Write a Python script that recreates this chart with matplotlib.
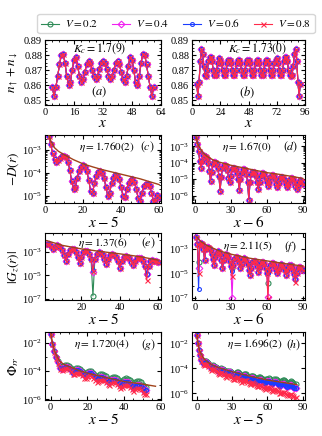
import numpy as np
import matplotlib
matplotlib.use("Agg")
import matplotlib.pyplot as plt
from matplotlib.ticker import MultipleLocator, FixedLocator, NullFormatter

plt.rcParams['font.family'] = ['Liberation Serif', 'DejaVu Serif']
plt.rcParams['mathtext.fontset'] = 'stix'
plt.rcParams['xtick.direction'] = 'in'
plt.rcParams['ytick.direction'] = 'in'
plt.rcParams['xtick.top'] = True
plt.rcParams['ytick.right'] = True
plt.rcParams['xtick.labelsize'] = 7.5
plt.rcParams['ytick.labelsize'] = 7.5
plt.rcParams['xtick.major.size'] = 3
plt.rcParams['ytick.major.size'] = 3
plt.rcParams['xtick.minor.size'] = 1.6
plt.rcParams['ytick.minor.size'] = 1.6
plt.rcParams['xtick.major.pad'] = 2
plt.rcParams['ytick.major.pad'] = 2
plt.rcParams['axes.linewidth'] = 0.8

# ---------------- data ----------------
V_labels = ['$V=0.2$', '$V=0.4$', '$V=0.6$', '$V=0.8$']

# (a) density, L=64
x_a = np.arange(4, 61)
dens_a = [0.859, 0.853, 0.859, 0.866, 0.874, 0.880, 0.881, 0.875, 0.866, 0.860,
          0.862, 0.870, 0.877, 0.879, 0.873, 0.866, 0.862, 0.864, 0.869, 0.874,
          0.876, 0.875, 0.870, 0.866, 0.864, 0.866, 0.871, 0.875, 0.876, 0.875,
          0.871, 0.866, 0.864, 0.866, 0.870, 0.875, 0.876, 0.874, 0.869, 0.864,
          0.862, 0.866, 0.873, 0.879, 0.877, 0.870, 0.862, 0.860, 0.866, 0.875,
          0.881, 0.880, 0.874, 0.866, 0.859, 0.853, 0.859]

# (b) density, L=96
x_b = np.arange(4, 93)
dens_b = [0.861, 0.853, 0.862, 0.876, 0.884, 0.881, 0.873, 0.867, 0.866, 0.870,
          0.876, 0.879, 0.879, 0.876, 0.870, 0.867, 0.867, 0.870, 0.875, 0.878,
          0.877, 0.875, 0.870, 0.867, 0.867, 0.870, 0.875, 0.877, 0.877, 0.875,
          0.870, 0.867, 0.867, 0.870, 0.875, 0.877, 0.877, 0.875, 0.870, 0.867,
          0.867, 0.870, 0.875, 0.877, 0.877, 0.875, 0.870, 0.867, 0.867, 0.870,
          0.875, 0.877, 0.877, 0.875, 0.870, 0.867, 0.867, 0.870, 0.875, 0.877,
          0.877, 0.875, 0.870, 0.867, 0.867, 0.870, 0.875, 0.877, 0.878, 0.875,
          0.870, 0.867, 0.867, 0.870, 0.876, 0.879, 0.879, 0.876, 0.870, 0.867,
          0.866, 0.867, 0.873, 0.881, 0.884, 0.876, 0.862, 0.853, 0.861]

# (c) -D(r), log10 values
x_c = np.arange(2, 61)
logD_c = [-2.40, -2.75, -3.15, -3.40, -3.50, -3.45, -3.35, -3.28, -3.25, -3.32,
          -3.50, -3.85, -4.35, -4.70, -4.60, -4.20, -3.90, -3.72, -3.66, -3.72,
          -3.92, -4.30, -4.80, -4.85, -4.45, -4.12, -3.96, -3.92, -4.00, -4.20,
          -4.60, -5.00, -4.85, -4.45, -4.20, -4.10, -4.12, -4.28, -4.60, -5.00,
          -5.05, -4.70, -4.42, -4.30, -4.28, -4.40, -4.70, -5.10, -5.20, -4.85,
          -4.58, -4.48, -4.47, -4.58, -4.85, -5.20, -5.15, -4.95, -5.05]
fitx_c = [2, 3, 5, 7, 10, 15, 20, 25, 30, 40, 50, 60]
fity_c = [-2.35, -2.6, -2.9, -3.05, -3.2, -3.42, -3.6, -3.73, -3.85, -4.05, -4.25, -4.5]

# (d) -D(r), log10 values
x_d = np.arange(1, 91)
logD_d = [-2.45, -2.85, -3.3, -3.9, -4.3, -3.9, -3.55, -3.6, -3.65, -3.75,
          -4.0, -4.5, -5.1, -4.55, -4.05, -3.95, -3.98, -4.05, -4.3, -4.8,
          -5.7, -4.85, -4.3, -4.15, -4.15, -4.2, -4.45, -4.9, -5.2, -4.8,
          -4.4, -4.3, -4.3, -4.35, -4.6, -5.0, -5.65, -5.0, -4.6, -4.4,
          -4.4, -4.45, -4.7, -5.2, -6.25, -5.2, -4.7, -4.55, -4.55, -4.6,
          -4.8, -5.2, -5.6, -5.2, -4.8, -4.65, -4.65, -4.7, -4.9, -5.2,
          -5.4, -5.15, -4.85, -4.75, -4.75, -4.8, -5.0, -5.3, -5.5, -5.25,
          -4.95, -4.85, -4.85, -4.9, -5.05, -5.3, -5.5, -5.3, -5.05, -4.95,
          -4.95, -5.0, -5.15, -5.4, -5.6, -5.35, -5.15, -5.05, -5.1, -5.3]
fitx_d = [1, 2, 3, 5, 7, 10, 15, 20, 30, 40, 50, 60, 70, 80, 90]
fity_d = [-2.4, -2.75, -2.95, -3.2, -3.4, -3.6, -3.82, -3.95, -4.15, -4.3, -4.45,
          -4.6, -4.7, -4.82, -4.95]

# (e) |G_z(r)|, log10 values
x_e = np.arange(2, 61)
logG_e = [-2.3, -2.35, -2.5, -2.8, -2.55, -2.45, -2.5, -2.6, -2.85, -3.25,
          -3.75, -3.2, -2.85, -2.75, -2.8, -3.0, -3.4, -3.95, -3.4, -3.0,
          -2.9, -2.95, -3.15, -3.6, -4.6, -3.6, -3.15, -3.05, -3.1, -3.3,
          -3.65, -4.0, -3.6, -3.25, -3.2, -3.25, -3.45, -3.8, -4.35, -3.8,
          -3.4, -3.35, -3.4, -3.55, -3.85, -4.1, -3.8, -3.55, -3.5, -3.55,
          -3.75, -4.2, -4.9, -4.2, -3.8, -3.7, -3.75, -3.8, -3.9]
dips_e = [{26: -6.75}, {26: -4.7}, {26: -4.55}, {54: -5.4}]
fitx_e = [2, 5, 10, 20, 30, 40, 50, 60]
fity_e = [-2.05, -2.2, -2.45, -2.75, -2.97, -3.17, -3.4, -3.7]

# (f) |G_z(r)|, log10 values
x_f = np.arange(1, 91)
logG_f = [-2.05, -2.6, -4.6, -2.7, -2.5, -2.6, -3.0, -3.9, -3.0, -2.85,
          -2.85, -2.95, -3.1, -3.4, -3.8, -4.3, -3.7, -3.3, -3.2, -3.25,
          -3.45, -3.9, -4.6, -3.9, -3.5, -3.45, -3.5, -3.7, -4.0, -4.4,
          -4.8, -4.3, -3.8, -3.65, -3.65, -3.8, -4.1, -4.6, -4.2, -3.85,
          -3.75, -3.8, -3.95, -4.25, -4.7, -5.1, -4.6, -4.1, -3.95, -3.95,
          -4.1, -4.4, -4.9, -4.5, -4.15, -4.05, -4.1, -4.25, -4.55, -4.95,
          -5.2, -4.7, -4.3, -4.15, -4.15, -4.25, -4.45, -4.75, -5.0, -4.65,
          -4.35, -4.25, -4.3, -4.45, -4.7, -5.1, -4.75, -4.45, -4.35, -4.35,
          -4.45, -4.7, -5.05, -5.5, -5.0, -4.6, -4.5, -4.5, -4.6, -4.7]
dips_f = [{3: -4.1, 31: -4.6, 61: -5.8},
          {31: -7.05, 61: -6.9},
          {3: -6.3, 61: -5.0},
          {3: -5.0, 31: -5.2, 61: -7.0, 84: -5.7}]
fitx_f = [1.5, 3, 5, 10, 20, 30, 45, 60, 75, 90]
fity_f = [-2.0, -2.2, -2.4, -2.72, -3.15, -3.43, -3.75, -3.98, -4.2, -4.4]

# (g) Phi_rr, log10 values
x_g = np.arange(0, 53)
logP_g_02 = [-1.35, -2.1, -2.6, -3.0, -3.3, -3.6, -3.7, -3.6, -3.55, -3.55,
             -3.65, -3.8, -3.95, -3.9, -3.8, -3.8, -3.85, -4.0, -4.15, -4.2,
             -4.05, -4.0, -4.0, -4.1, -4.25, -4.4, -4.35, -4.2, -4.2, -4.25,
             -4.35, -4.55, -4.6, -4.45, -4.4, -4.4, -4.5, -4.65, -4.8, -4.7,
             -4.55, -4.5, -4.55, -4.65, -4.8, -4.95, -4.8, -4.7, -4.7, -4.8,
             -4.95, -5.15, -5.1]
logP_g_06 = [-1.35, -2.1, -2.6, -3.0, -3.35, -3.75, -3.85, -3.75, -3.7, -3.7,
             -3.75, -3.9, -4.1, -4.05, -3.95, -3.95, -4.0, -4.1, -4.3, -4.35,
             -4.2, -4.15, -4.15, -4.25, -4.4, -4.55, -4.5, -4.4, -4.4, -4.45,
             -4.55, -4.75, -4.8, -4.65, -4.6, -4.6, -4.7, -4.85, -5.0, -4.95,
             -4.8, -4.75, -4.8, -4.9, -5.05, -5.2, -5.05, -4.95, -4.95, -5.05,
             -5.2, -5.4, -5.35]
logP_g_08 = [-1.35, -2.1, -2.65, -3.05, -3.45, -3.85, -3.95, -3.85, -3.8, -3.8,
             -3.85, -4.0, -4.2, -4.2, -4.1, -4.1, -4.15, -4.25, -4.45, -4.5,
             -4.35, -4.3, -4.35, -4.45, -4.6, -4.75, -4.7, -4.6, -4.6, -4.65,
             -4.75, -4.9, -4.95, -4.85, -4.8, -4.8, -4.9, -5.05, -5.2, -5.15,
             -5.0, -4.95, -5.0, -5.1, -5.25, -5.4, -5.3, -5.2, -5.2, -5.3,
             -5.45, -5.65, -5.6]
fitx_g = [0.2, 1, 2, 3, 5, 7, 10, 15, 20, 30, 40, 50, 57]
fity_g = [-1.35, -1.95, -2.45, -2.8, -3.3, -3.5, -3.67, -3.93, -4.14, -4.45,
          -4.74, -4.92, -5.07]

# (h) Phi_rr, log10 values
x_h = np.arange(0, 85)
logP_h_02 = [-1.35, -2.0, -2.55, -2.95, -3.28, -3.5, -3.52, -3.42, -3.42, -3.46,
             -3.56, -3.7, -3.85, -3.8, -3.75, -3.8, -3.85, -3.95, -4.1, -4.15,
             -4.05, -4.0, -4.04, -4.14, -4.28, -4.33, -4.23, -4.18, -4.18, -4.26,
             -4.38, -4.45, -4.47, -4.35, -4.3, -4.3, -4.4, -4.52, -4.62, -4.56,
             -4.44, -4.43, -4.48, -4.58, -4.7, -4.74, -4.62, -4.57, -4.6, -4.66,
             -4.78, -4.86, -4.79, -4.7, -4.7, -4.75, -4.85, -4.95, -4.98, -4.88,
             -4.82, -4.8, -4.88, -4.98, -5.05, -4.97, -4.88, -4.86, -4.9, -5.0,
             -5.1, -5.12, -5.02, -4.95, -4.95, -5.02, -5.12, -5.2, -5.14, -5.05,
             -5.03, -5.08, -5.2, -5.3, -5.25]
logP_h_06 = [-1.35, -2.0, -2.55, -2.95, -3.3, -3.55, -3.6, -3.5, -3.5, -3.55,
             -3.65, -3.8, -3.95, -3.9, -3.85, -3.9, -3.95, -4.05, -4.2, -4.25,
             -4.15, -4.1, -4.15, -4.25, -4.4, -4.45, -4.35, -4.3, -4.3, -4.38,
             -4.5, -4.6, -4.62, -4.5, -4.45, -4.45, -4.55, -4.68, -4.78, -4.72,
             -4.6, -4.6, -4.65, -4.75, -4.88, -4.92, -4.8, -4.75, -4.78, -4.85,
             -4.97, -5.05, -4.98, -4.9, -4.9, -4.95, -5.05, -5.15, -5.18, -5.08,
             -5.02, -5.02, -5.1, -5.2, -5.28, -5.2, -5.12, -5.1, -5.15, -5.25,
             -5.35, -5.38, -5.28, -5.22, -5.22, -5.3, -5.4, -5.48, -5.42, -5.33,
             -5.32, -5.38, -5.5, -5.6, -5.55]
logP_h_08 = [-1.35, -2.0, -2.6, -3.05, -3.4, -3.68, -3.72, -3.63, -3.63, -3.68,
             -3.78, -3.93, -4.1, -4.05, -4.0, -4.05, -4.1, -4.22, -4.37, -4.43,
             -4.33, -4.28, -4.33, -4.45, -4.6, -4.66, -4.56, -4.5, -4.52, -4.6,
             -4.73, -4.85, -4.87, -4.75, -4.7, -4.72, -4.82, -4.95, -5.06, -5.0,
             -4.9, -4.9, -4.96, -5.07, -5.2, -5.26, -5.15, -5.1, -5.14, -5.22,
             -5.35, -5.44, -5.38, -5.3, -5.32, -5.38, -5.5, -5.6, -5.64, -5.55,
             -5.5, -5.52, -5.6, -5.72, -5.8, -5.73, -5.66, -5.65, -5.72, -5.83,
             -5.94, -5.98, -5.9, -5.85, -5.86, -5.95, -6.06, -6.15, -6.1, -6.02,
             -6.02, -6.1, -6.23, -6.35, -6.3]
fitx_h = [0.2, 1, 2, 3, 5, 7, 10, 15, 20, 30, 45, 60, 75, 85]
fity_h = [-1.35, -1.9, -2.4, -2.7, -3.07, -3.3, -3.55, -3.8, -3.98, -4.27, -4.62,
          -4.93, -5.15, -5.3]

# ---------------- style ----------------
colors = ['#2e8b57', '#f020f0', '#1a3cff', '#ff2a4a']
markers = ['o', 'D', 'o', 'x']
msizes = [3.6, 3.4, 2.8, 3.6]
fit_color = '#a0421a'

W, H = 322, 436
fig = plt.figure(figsize=(W / 100, H / 100), dpi=100)


def add_ax(l, t, r, b):
    return fig.add_axes([l / W, 1 - b / H, (r - l) / W, (b - t) / H])


def draw(ax, x, ys, fx=None, fy=None, log=False):
    for i, y in enumerate(ys):
        yy = 10.0 ** np.array(y) if log else np.array(y)
        ax.plot(x, yy, color=colors[i], marker=markers[i], ms=msizes[i],
                mfc='none', mew=0.8, lw=0.8, label=V_labels[i])
    if fx is not None:
        fyy = 10.0 ** np.array(fy) if log else np.array(fy)
        ax.plot(fx, fyy, color=fit_color, lw=1.0, zorder=5)
    if log:
        ax.set_yscale('log')


def with_dips(base, x0, dips):
    out = []
    for d in dips:
        y = list(base)
        for k, v in d.items():
            y[k - x0] = v
        out.append(y)
    return out


def annotate(ax, eta, xe, tag, xt, y):
    ax.text(xe, y, eta, transform=ax.transAxes, ha='center', va='center', fontsize=8)
    ax.text(xt, y, tag, transform=ax.transAxes, ha='center', va='center', fontsize=8.5)


def log_yticks(ax, major, minor):
    ax.yaxis.set_major_locator(FixedLocator(major))
    ax.yaxis.set_minor_locator(FixedLocator(minor))
    ax.yaxis.set_minor_formatter(NullFormatter())


colL = (45, 161)
colR = (192, 305)
rows = [(40, 105), (135, 203), (233, 300), (332, 400)]
sub_c = [k * 10.0 ** e for e in range(-8, -1) for k in range(2, 10)]

# (a)
ax = add_ax(colL[0], rows[0][0], colL[1], rows[0][1])
draw(ax, x_a, [dens_a] * 4)
ax.plot(x_a, dens_a, color=fit_color, lw=0.8, zorder=1)
ax.set_xlim(0, 64)
ax.set_ylim(0.847, 0.89)
ax.xaxis.set_major_locator(FixedLocator([0, 16, 32, 48, 64]))
ax.xaxis.set_minor_locator(MultipleLocator(4))
ax.yaxis.set_major_locator(MultipleLocator(0.01))
ax.yaxis.set_minor_locator(MultipleLocator(0.0025))
ax.yaxis.set_major_formatter(matplotlib.ticker.FormatStrFormatter('%.2f'))
ax.set_xlabel('$x$', fontsize=11, labelpad=0)
ax.set_ylabel(r'$n_{\uparrow}+n_{\downarrow}$', fontsize=9.5)
ax.text(0.47, 0.86, '$K_c=1.7(9)$', transform=ax.transAxes, ha='center', va='center', fontsize=8.5)
ax.text(0.47, 0.2, '$(a)$', transform=ax.transAxes, ha='center', va='center', fontsize=9)
handles, labels = ax.get_legend_handles_labels()
axes_left = [ax]

# (b)
ax = add_ax(colR[0], rows[0][0], colR[1], rows[0][1])
draw(ax, x_b, [dens_b] * 4)
ax.plot(x_b, dens_b, color=fit_color, lw=0.8, zorder=1)
ax.set_xlim(0, 96)
ax.set_ylim(0.847, 0.89)
ax.xaxis.set_major_locator(FixedLocator([0, 24, 48, 72, 96]))
ax.xaxis.set_minor_locator(MultipleLocator(6))
ax.yaxis.set_major_locator(MultipleLocator(0.01))
ax.yaxis.set_minor_locator(MultipleLocator(0.0025))
ax.yaxis.set_major_formatter(matplotlib.ticker.FormatStrFormatter('%.2f'))
ax.set_xlabel('$x$', fontsize=11, labelpad=0)
ax.text(0.58, 0.86, '$K_c=1.73(0)$', transform=ax.transAxes, ha='center', va='center', fontsize=8.5)
ax.text(0.49, 0.2, '$(b)$', transform=ax.transAxes, ha='center', va='center', fontsize=9)

# (c)
ax = add_ax(colL[0], rows[1][0], colL[1], rows[1][1])
draw(ax, x_c, [logD_c] * 4, fitx_c, fity_c, log=True)
ax.set_xlim(0, 61)
ax.set_ylim(5e-6, 4.5e-3)
ax.xaxis.set_major_locator(MultipleLocator(20))
ax.xaxis.set_minor_locator(MultipleLocator(5))
log_yticks(ax, [1e-5, 1e-4, 1e-3], sub_c)
ax.set_xlabel('$x-5$', fontsize=11, labelpad=0)
ax.set_ylabel('$-D(r)$', fontsize=9.5)
annotate(ax, r'$\eta=1.760(2)$', 0.53, '$(c)$', 0.88, 0.83)
axes_left.append(ax)

# (d)
ax = add_ax(colR[0], rows[1][0], colR[1], rows[1][1])
draw(ax, x_d, [logD_d] * 4, fitx_d, fity_d, log=True)
ax.set_xlim(-2.5, 92)
ax.set_ylim(3.5e-7, 5e-3)
ax.xaxis.set_major_locator(MultipleLocator(30))
ax.xaxis.set_minor_locator(MultipleLocator(10))
log_yticks(ax, [1e-6, 1e-5, 1e-4, 1e-3], sub_c)
ax.set_xlabel('$x-6$', fontsize=11, labelpad=0)
annotate(ax, r'$\eta=1.67(0)$', 0.49, '$(d)$', 0.87, 0.83)

# (e)
ax = add_ax(colL[0], rows[2][0], colL[1], rows[2][1])
draw(ax, x_e, with_dips(logG_e, 2, dips_e), fitx_e, fity_e, log=True)
ax.set_xlim(1, 61.5)
ax.set_ylim(8e-8, 4e-2)
ax.xaxis.set_major_locator(MultipleLocator(20))
ax.xaxis.set_minor_locator(MultipleLocator(5))
log_yticks(ax, [1e-7, 1e-5, 1e-3], [1e-6, 1e-4, 1e-2])
ax.set_xlabel('$x-5$', fontsize=11, labelpad=0)
ax.set_ylabel('$|G_z(r)|$', fontsize=9.5)
annotate(ax, r'$\eta=1.37(6)$', 0.5, '$(e)$', 0.89, 0.85)
axes_left.append(ax)

# (f)
ax = add_ax(colR[0], rows[2][0], colR[1], rows[2][1])
draw(ax, x_f, with_dips(logG_f, 1, dips_f), fitx_f, fity_f, log=True)
ax.set_xlim(-2.5, 92)
ax.set_ylim(6.6e-8, 2e-2)
ax.xaxis.set_major_locator(MultipleLocator(30))
ax.xaxis.set_minor_locator(MultipleLocator(10))
log_yticks(ax, [1e-7, 1e-5, 1e-3], [1e-6, 1e-4, 1e-2])
ax.set_xlabel('$x-6$', fontsize=11, labelpad=0)
annotate(ax, r'$\eta=2.11(5)$', 0.5, '$(f)$', 0.87, 0.8)

# (g)
ax = add_ax(colL[0], rows[3][0], colL[1], rows[3][1])
draw(ax, x_g, [logP_g_02, logP_g_06, logP_g_06, logP_g_08], fitx_g, fity_g, log=True)
ax.set_xlim(-3, 60)
ax.set_ylim(9e-7, 6e-2)
ax.xaxis.set_major_locator(MultipleLocator(20))
ax.xaxis.set_minor_locator(MultipleLocator(5))
log_yticks(ax, [1e-6, 1e-4, 1e-2], [1e-5, 1e-3])
ax.set_xlabel('$x-5$', fontsize=11, labelpad=0)
ax.set_ylabel(r'$\Phi_{rr}$', fontsize=9.5)
annotate(ax, r'$\eta=1.720(4)$', 0.49, '$(g)$', 0.89, 0.82)
axes_left.append(ax)

# (h)
ax = add_ax(colR[0], rows[3][0], colR[1], rows[3][1])
draw(ax, x_h, [logP_h_02, logP_h_06, logP_h_06, logP_h_08], fitx_h, fity_h, log=True)
ax.set_xlim(-4, 92)
ax.set_ylim(3e-7, 8e-2)
ax.xaxis.set_major_locator(MultipleLocator(30))
ax.xaxis.set_minor_locator(MultipleLocator(10))
log_yticks(ax, [1e-6, 1e-4, 1e-2], [1e-5, 1e-3])
ax.set_xlabel('$x-5$', fontsize=11, labelpad=0)
annotate(ax, r'$\eta=1.696(2)$', 0.56, '$(h)$', 0.9, 0.82)

for a in axes_left:
    a.yaxis.set_label_coords(-0.21, 0.5)

fig.legend(handles, labels, loc='upper center', bbox_to_anchor=(176 / W, 1 - 8 / H),
           ncol=4, fontsize=8, frameon=True, fancybox=True, handlelength=1.6,
           handletextpad=0.5, columnspacing=1.3, borderpad=0.35, edgecolor='#cccccc')

fig.savefig('out.png', dpi=100)
